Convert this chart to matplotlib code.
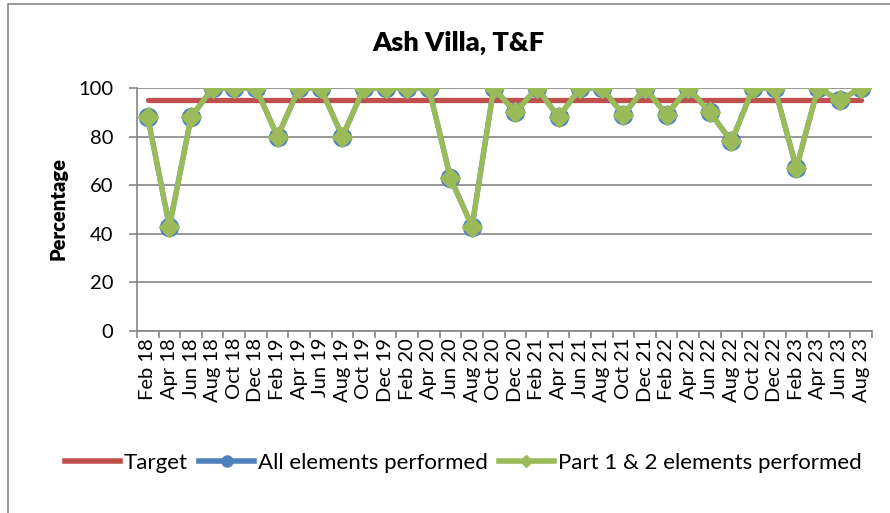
import matplotlib
matplotlib.use("Agg")
import matplotlib.pyplot as plt
from matplotlib.lines import Line2D
from matplotlib.patches import Rectangle

plt.rcParams['font.family'] = ['Lato', 'DejaVu Sans']

categories = ["Feb 18", "Apr 18", "Jun 18", "Aug 18", "Oct 18", "Dec 18",
              "Feb 19", "Apr 19", "Jun 19", "Aug 19", "Oct 19", "Dec 19",
              "Feb 20", "Apr 20", "Jun 20", "Aug 20", "Oct 20", "Dec 20",
              "Feb 21", "Apr 21", "Jun 21", "Aug 21", "Oct 21", "Dec 21",
              "Feb 22", "Apr 22", "Jun 22", "Aug 22", "Oct 22", "Dec 22",
              "Feb 23", "Apr 23", "Jun 23", "Aug 23"]

target = [95, 95, 95, 95, 95, 95, 95, 95, 95, 95, 95, 95, 95, 95, 95, 95, 95,
          95, 95, 95, 95, 95, 95, 95, 95, 95, 95, 95, 95, 95, 95, 95, 95, 95]

all_elements = [88, 43, 88, 100, 100, 100, 80, 100, 100, 80, 100, 100,
                100, 100, 63, 43, 100, 90, 100, 88, 100, 100, 89, 100,
                89, 100, 90, 78, 100, 100, 67, 100, 95, 100]

part12_elements = [88, 43, 88, 100, 100, 100, 80, 100, 100, 80, 100, 100,
                   100, 100, 63, 43, 100, 90, 100, 88, 100, 100, 89, 100,
                   89, 100, 90, 78, 100, 100, 67, 100, 95, 100]

yticks = [0, 20, 40, 60, 80, 100]

RED = "#C0504D"
BLUE = "#4F81BD"
GREEN = "#9BBB59"
GRAY = "#868686"

W, H = 890, 513
fig = plt.figure(figsize=(W / 100, H / 100), dpi=100)

# chart frame (top and left edges visible)
fig.patches.append(Rectangle((8 / W, -0.2), 1.5, 1.2 - 4 / H,
                             transform=fig.transFigure, fill=False,
                             edgecolor=GRAY, linewidth=1.2))

ax = fig.add_axes([137 / W, 1 - 331 / H, (872 - 137) / W, (331 - 88) / H])

x = list(range(len(categories)))
ax.plot(x, target, color=RED, lw=3.8, solid_capstyle='round', zorder=3)
ax.plot(x, all_elements, color=BLUE, lw=3.8, marker='o', ms=13,
        markerfacecolor=BLUE, markeredgecolor=BLUE, zorder=4)
ax.plot(x, part12_elements, color=GREEN, lw=3.8, marker='D', ms=10.3,
        markerfacecolor=GREEN, markeredgecolor=GREEN, zorder=5)

ax.set_xlim(-0.5, len(categories) - 0.5)
ax.set_ylim(0, 100)
ax.set_yticks(yticks)
ax.set_yticklabels([str(v) for v in yticks], fontsize=14.5)
ax.yaxis.grid(True, color=GRAY, lw=1.2)
ax.set_axisbelow(True)

ax.set_xticks(x)
ax.set_xticklabels(categories, rotation=90, fontsize=14.5)
ax.set_xticks([i - 0.5 for i in range(len(categories) + 1)], minor=True)
ax.tick_params(axis='x', which='major', length=0, pad=5)
ax.tick_params(axis='x', which='minor', length=5, color=GRAY, width=1.2)
ax.tick_params(axis='y', length=6, color=GRAY, width=1.2, pad=11)

for s in ['top', 'right']:
    ax.spines[s].set_visible(False)
for s in ['left', 'bottom']:
    ax.spines[s].set_color(GRAY)
    ax.spines[s].set_linewidth(1.2)

fig.text(458 / W, 1 - 43 / H, "Ash Villa, T&F", ha='center', va='center',
         fontsize=19.5, fontweight='heavy')
fig.text(58 / W, 1 - 209 / H, "Percentage", ha='center', va='center',
         rotation=90, fontsize=14.5, fontweight='heavy')

handles = [
    Line2D([], [], color=RED, lw=4),
    Line2D([], [], color=BLUE, lw=4, marker='o', ms=8),
    Line2D([], [], color=GREEN, lw=4, marker='D', ms=6),
]
labels = ["Target", "All elements performed", "Part 1 & 2 elements performed"]
fig.legend(handles, labels, loc='center', bbox_to_anchor=(463 / W, 1 - 463 / H),
           ncol=3, frameon=False, fontsize=16, handlelength=2.5,
           handletextpad=0.15, columnspacing=0.5)

fig.savefig("out.png", dpi=100)
